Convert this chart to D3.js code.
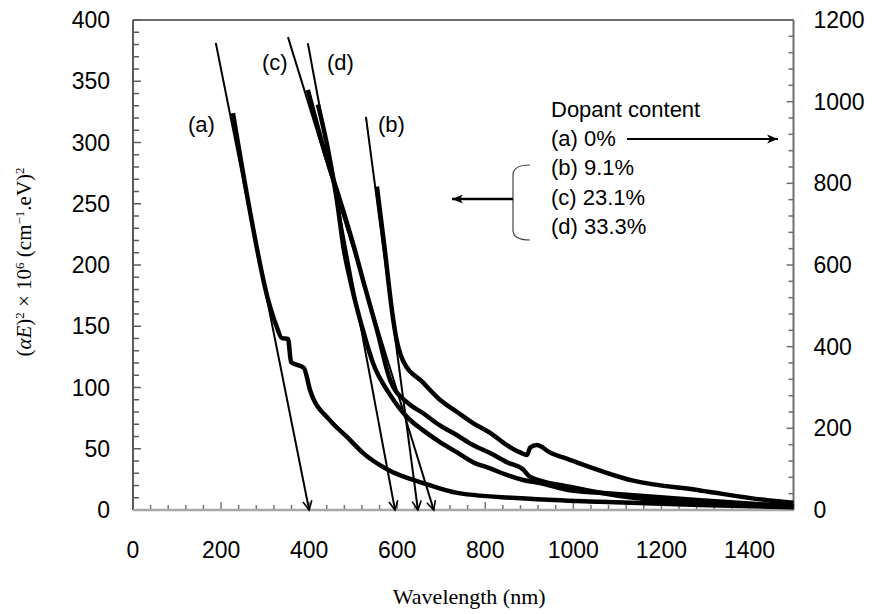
<!DOCTYPE html>
<html>
<head>
<meta charset="utf-8">
<script src="https://cdn.jsdelivr.net/npm/d3@7"></script>
<style>
body { margin: 0; background: #fff; }
text { font-family: 'Liberation Sans', Arial, sans-serif; fill: #000; }
.serif { font-family: 'Liberation Serif', 'Times New Roman', serif; }
</style>
</head>
<body>
<div class="graph"></div>
<script>
(() => {
// curve (a) is read on the right axis, (b)-(d) on the left axis
var wlA  = [227, 261, 307, 325, 338, 352, 359, 388, 402, 447, 486, 522, 580, 659, 736, 908, 1060, 1288, 1500];
var valA = [972, 759, 514, 453, 421, 419, 362, 348, 294, 220, 179, 140, 98, 66, 42, 27, 20, 12, 7];

var wlB  = [554, 572, 588, 597, 613, 659, 697, 736, 772, 811, 849, 879, 895, 902, 917, 947, 992, 1136, 1288, 1440, 1500];
var valB = [264, 212, 163, 142, 122, 104, 90, 80, 71, 63, 53, 47, 45, 51, 53, 47, 41, 24, 16, 8, 6];

var wlC  = [397, 434, 470, 504, 522, 554, 584, 622, 659, 697, 736, 772, 811, 849, 886, 902, 992, 1136, 1288, 1500];
var valC = [343, 294, 253, 212, 188, 147, 106, 88, 79, 69, 61, 53, 46.5, 39, 33, 27, 19, 10, 6, 2.5];

var wlD  = [420, 443, 463, 479, 493, 522, 545, 584, 622, 659, 697, 736, 772, 811, 849, 886, 924, 992, 1061, 1288, 1500];
var valD = [331, 294, 253, 212, 188, 147, 120, 94, 76, 65, 55.5, 47, 39, 34, 28.6, 24.5, 22, 16, 14, 8, 3];

// linear fits extrapolated to the wavelength axis: [start, end]
var fitA = {wl: [188, 400], val: [1144, 0]};
var fitB = {wl: [529, 647], val: [321, 0]};
var fitC = {wl: [352, 683], val: [386, 0]};
var fitD = {wl: [397, 595], val: [381, 0]};

var xTicks = [0, 200, 400, 600, 800, 1000, 1200, 1400];
var yTicks = [0, 50, 100, 150, 200, 250, 300, 350, 400];
var y2Ticks = [0, 200, 400, 600, 800, 1000, 1200];

var legendLines = ['(a) 0%', '(b) 9.1%', '(c) 23.1%', '(d) 33.3%'];

var margin = {top: 20, left: 133},
    W = 877, H = 614,
    pw = 660.5, ph = 490;

var x = d3.scaleLinear().domain([0, 1500]).range([0, pw]);
var y = d3.scaleLinear().domain([0, 400]).range([ph, 0]);
var y2 = d3.scaleLinear().domain([0, 1200]).range([ph, 0]);

var svg = d3.select('div.graph')
    .append('svg')
        .attr('width', W)
        .attr('height', H);

var defs = svg.append('defs');
defs.append('marker')
    .attr('id', 'vhead')
    .attr('viewBox', '-10 -6 12 12')
    .attr('markerWidth', 12).attr('markerHeight', 12)
    .attr('markerUnits', 'userSpaceOnUse')
    .attr('refX', 0).attr('refY', 0)
    .attr('orient', 'auto')
  .append('path')
    .attr('d', 'M-9,-4.5 L0,0 L-9,4.5')
    .attr('fill', 'none').attr('stroke', '#000').attr('stroke-width', 1.6);
defs.append('marker')
    .attr('id', 'fhead')
    .attr('viewBox', '-12 -6 14 12')
    .attr('markerWidth', 14).attr('markerHeight', 12)
    .attr('markerUnits', 'userSpaceOnUse')
    .attr('refX', 0).attr('refY', 0)
    .attr('orient', 'auto')
  .append('path')
    .attr('d', 'M-11,-4.5 L0,0 L-11,4.5 L-8,0 Z')
    .attr('fill', '#000');

var g = svg.append('g')
    .attr('transform', 'translate(' + margin.left + ',' + margin.top + ')');

// frame
g.append('line').attr('x1', 0).attr('x2', pw).attr('y1', 0).attr('y2', 0)
    .attr('stroke', '#6e6e6e').attr('stroke-width', 2);
g.append('line').attr('x1', 0).attr('x2', 0).attr('y1', 0).attr('y2', ph)
    .attr('stroke', '#5a5a5a').attr('stroke-width', 2);
g.append('line').attr('x1', pw).attr('x2', pw).attr('y1', 0).attr('y2', ph)
    .attr('stroke', '#6e6e6e').attr('stroke-width', 2);

// inward ticks
g.selectAll('.ly').data(d3.range(0, 401, 10)).enter().append('line')
    .attr('x1', 0).attr('x2', (d) => d % 50 ? 6 : 8)
    .attr('y1', (d) => y(d)).attr('y2', (d) => y(d))
    .attr('stroke', '#5a5a5a').attr('stroke-width', 1.5);
g.selectAll('.ry').data(d3.range(0, 1201, 40)).enter().append('line')
    .attr('x1', pw).attr('x2', (d) => pw - (d % 200 ? 5 : 7))
    .attr('y1', (d) => y2(d)).attr('y2', (d) => y2(d))
    .attr('stroke', '#6e6e6e').attr('stroke-width', 1.5);
g.selectAll('.bx').data(d3.range(40, 1500, 40)).enter().append('line')
    .attr('x1', (d) => x(d)).attr('x2', (d) => x(d))
    .attr('y1', ph).attr('y2', (d) => ph - (d % 200 ? 5 : 8))
    .attr('stroke', '#777').attr('stroke-width', 1.5);
g.append('line').attr('x1', 0).attr('x2', pw).attr('y1', ph).attr('y2', ph)
    .attr('stroke', '#a8a8a8').attr('stroke-width', 2.5);

// tick labels
g.selectAll('.xl').data(xTicks).enter().append('text')
    .attr('x', (d) => x(d)).attr('y', ph + 48)
    .attr('text-anchor', 'middle').style('font-size', '23px')
    .text((d) => d);
g.selectAll('.yl').data(yTicks).enter().append('text')
    .attr('x', -23).attr('y', (d) => y(d) + 8)
    .attr('text-anchor', 'end').style('font-size', '23px')
    .text((d) => d);
g.selectAll('.y2l').data(y2Ticks).enter().append('text')
    .attr('x', pw + 20).attr('y', (d) => y2(d) + 8)
    .attr('text-anchor', 'start').style('font-size', '23px')
    .text((d) => d);

// axis titles
svg.append('text').attr('class', 'serif')
    .attr('x', margin.left + pw / 2 + 6).attr('y', 604)
    .attr('text-anchor', 'middle').style('font-size', '22px')
    .text('Wavelength (nm)');

var yt = svg.append('text').attr('class', 'serif')
    .attr('transform', 'translate(31,262) rotate(-90)')
    .attr('text-anchor', 'middle').style('font-size', '21px');
yt.append('tspan').text('(');
yt.append('tspan').style('font-style', 'italic').text('αE');
yt.append('tspan').text(')');
yt.append('tspan').attr('baseline-shift', 'super').style('font-size', '13px').text('2');
yt.append('tspan').text(' × 10');
yt.append('tspan').attr('baseline-shift', 'super').style('font-size', '13px').text('6');
yt.append('tspan').text(' (cm');
yt.append('tspan').attr('baseline-shift', 'super').style('font-size', '13px').text('−1');
yt.append('tspan').text('.eV)');
yt.append('tspan').attr('baseline-shift', 'super').style('font-size', '13px').text('2');

// data curves
var curves = [
    {wl: wlA, val: valA, sc: y2},
    {wl: wlB, val: valB, sc: y},
    {wl: wlC, val: valC, sc: y},
    {wl: wlD, val: valD, sc: y}
];
curves.forEach(function(c) {
    var line = d3.line()
        .x((d) => x(d[0]))
        .y((d) => c.sc(d[1]))
        .curve(d3.curveMonotoneX);
    g.append('path')
        .datum(d3.zip(c.wl, c.val))
        .attr('d', line)
        .attr('fill', 'none')
        .attr('stroke', '#000')
        .attr('stroke-width', 4.5)
        .attr('stroke-linejoin', 'round');
});

// fitted lines with arrows on the wavelength axis
var fits = [
    {f: fitA, sc: y2},
    {f: fitB, sc: y},
    {f: fitC, sc: y},
    {f: fitD, sc: y}
];
fits.forEach(function(o) {
    g.append('line')
        .attr('x1', x(o.f.wl[0])).attr('y1', o.sc(o.f.val[0]))
        .attr('x2', x(o.f.wl[1])).attr('y2', o.sc(o.f.val[1]))
        .attr('stroke', '#000').attr('stroke-width', 2)
        .attr('marker-end', 'url(#vhead)');
});

// curve labels
var labels = [['(a)', 188, 132], ['(c)', 262, 70], ['(d)', 327, 70], ['(b)', 378, 132]];
svg.selectAll('.cl').data(labels).enter().append('text')
    .attr('x', (d) => d[1]).attr('y', (d) => d[2])
    .style('font-size', '22px')
    .text((d) => d[0]);

// legend
svg.append('text').attr('x', 551).attr('y', 117)
    .style('font-size', '22px').text('Dopant content');
svg.selectAll('.lg').data(legendLines).enter().append('text')
    .attr('x', 551).attr('y', (d, i) => 146 + i * 29.3)
    .style('font-size', '22px')
    .text((d) => d);

svg.append('line').attr('x1', 627).attr('x2', 778).attr('y1', 139).attr('y2', 139)
    .attr('stroke', '#000').attr('stroke-width', 1.8)
    .attr('marker-end', 'url(#fhead)');

svg.append('path')
    .attr('d', 'M530,165 Q513,165 513,175 L513,230 Q513,240 530,240')
    .attr('fill', 'none').attr('stroke', '#444').attr('stroke-width', 1.2);
svg.append('line').attr('x1', 513).attr('x2', 452).attr('y1', 199).attr('y2', 199)
    .attr('stroke', '#000').attr('stroke-width', 2.5)
    .attr('marker-end', 'url(#fhead)');
})();
</script>
</body>
</html>
